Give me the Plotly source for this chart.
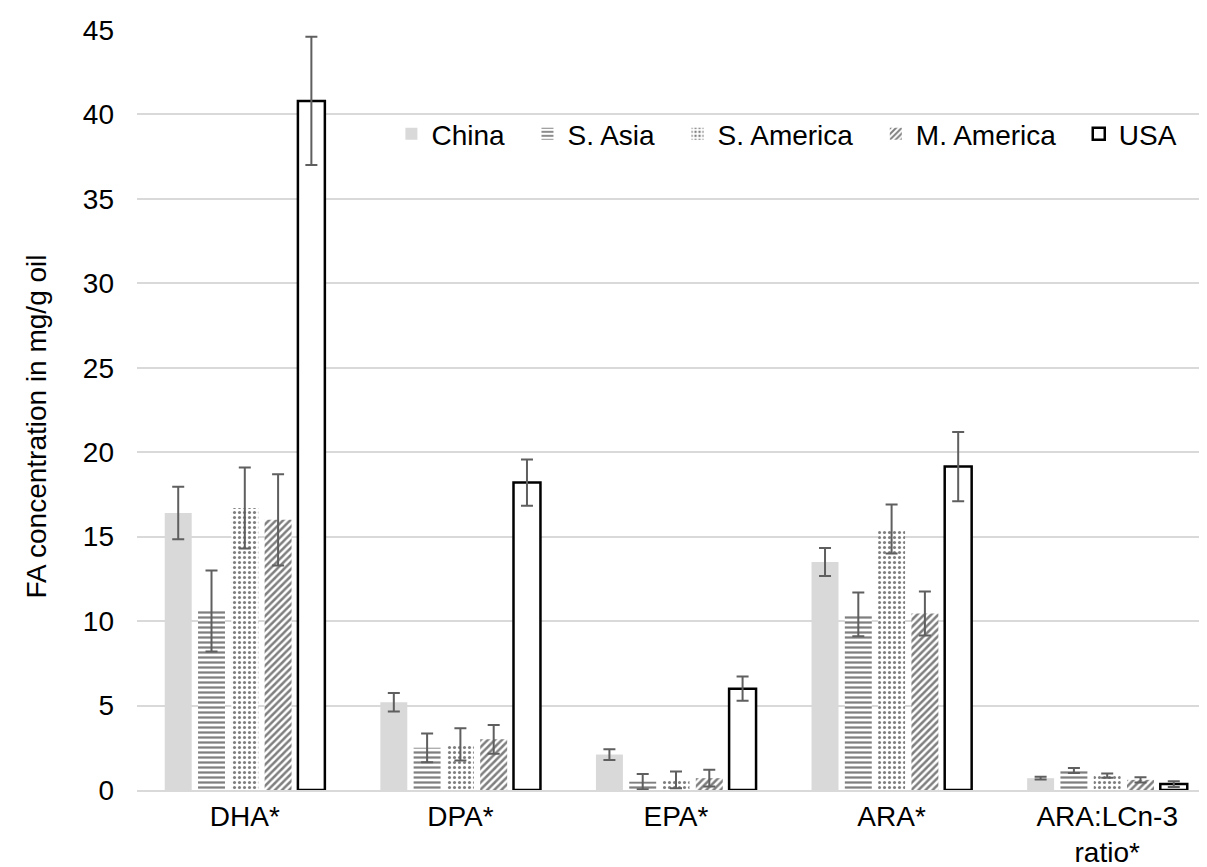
import plotly.graph_objects as go

categories = ["DHA*", "DPA*", "EPA*", "ARA*", "ARA:LCn-3<br>ratio*"]
series_names = ["China", "S. Asia", "S. America", "M. America", "USA"]

china = [16.4, 5.2, 2.1, 13.5, 0.7]
china_err = [1.55, 0.55, 0.32, 0.83, 0.08]
s_asia = [10.6, 2.5, 0.5, 10.4, 1.15]
s_asia_err = [2.4, 0.85, 0.45, 1.3, 0.15]
s_america = [16.7, 2.7, 0.6, 15.45, 0.85]
s_america_err = [2.4, 0.95, 0.5, 1.45, 0.12]
m_america = [16.0, 3.0, 0.7, 10.45, 0.6]
m_america_err = [2.7, 0.85, 0.5, 1.3, 0.15]
usa = [40.8, 18.2, 6.0, 19.15, 0.35]
usa_err = [3.8, 1.37, 0.72, 2.05, 0.17]

y_ticks = [0, 5, 10, 15, 20, 25, 30, 35, 40, 45]
y_title = "FA concentration in mg/g oil"

FONT = "Liberation Sans, Arial, sans-serif"
FS = 28
ERR = dict(type="data", visible=True, color="#5f5f5f", thickness=2, width=6)
PAD = "\u00a0\u00a0\u200a"

values = [china, s_asia, s_america, m_america, usa]
errors = [china_err, s_asia_err, s_america_err, m_america_err, usa_err]
styles = [
    dict(color="#d9d9d9", line=dict(width=0)),
    dict(color="white", line=dict(width=0),
         pattern=dict(shape="-", fgcolor="black", bgcolor="white", size=5, solidity=0.45)),
    dict(color="white", line=dict(width=0),
         pattern=dict(shape=".", fgcolor="black", bgcolor="white", size=5, solidity=0.3)),
    dict(color="white", line=dict(width=0),
         pattern=dict(shape="/", fgcolor="black", bgcolor="white", size=5, solidity=0.5)),
    dict(color="white", line=dict(color="black", width=2.5)),
]

fig = go.Figure()
for i, (name, vals, errs, st) in enumerate(zip(series_names, values, errors, styles)):
    label = name if i == len(series_names) - 1 else name + PAD
    fig.add_trace(go.Bar(
        x=categories, y=vals, name=label, marker=st,
        error_y=dict(array=errs, **ERR),
    ))

fig.update_layout(
    width=1207, height=867,
    margin=dict(l=129, r=0, t=22, b=85),
    paper_bgcolor="white", plot_bgcolor="white",
    barmode="group", bargap=0.228, bargroupgap=0.19,
    font=dict(family=FONT, size=FS, color="black"),
    legend=dict(orientation="h", x=0.236, y=0.863, xanchor="left", yanchor="middle",
                font=dict(size=FS, color="black"), bgcolor="rgba(0,0,0,0)",
                traceorder="normal"),
    showlegend=True,
)
fig.update_yaxes(range=[0, 45], tickvals=y_ticks, showgrid=True, gridcolor="#d9d9d9",
                 gridwidth=2, zeroline=False, showline=False, ticks="",
                 ticklabelstandoff=22, tickfont=dict(size=FS, color="black"))
fig.update_xaxes(showline=True, linecolor="#d9d9d9", linewidth=2, ticks="",
                 ticklabelstandoff=0, tickfont=dict(size=FS, color="black"))
fig.add_annotation(text=y_title, xref="paper", yref="paper", x=-0.093, y=0.478,
                   xanchor="center", yanchor="middle", textangle=-90, showarrow=False,
                   font=dict(size=FS, color="black", family=FONT))

fig.write_html("out.html")
